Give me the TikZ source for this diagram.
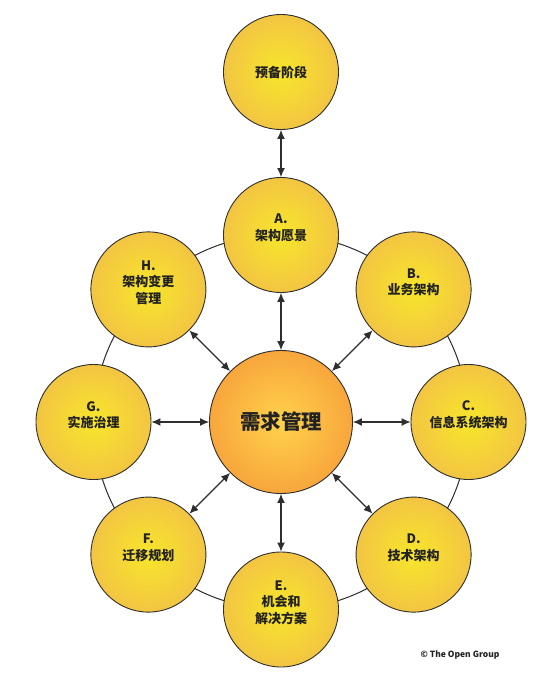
\documentclass[tikz,border=0pt]{standalone}
\usepackage{fontspec}
\setmainfont{Noto Sans CJK SC}
\usetikzlibrary{arrows.meta}
\definecolor{pin}{HTML}{F7E62A}
\definecolor{pout}{HTML}{F3C543}
\definecolor{hin}{HTML}{FFD24C}
\definecolor{hout}{HTML}{F8A63C}
\definecolor{edgec}{HTML}{2E2E2E}
\definecolor{txt}{HTML}{222222}
\begin{document}
\begin{tikzpicture}[x=1pt,y=-1pt,
  phase/.style={circle, draw=edgec, line width=0.9pt, minimum size=115pt, inner sep=0pt,
    inner color=pin, outer color=pout},
  hubnode/.style={circle, draw=edgec, line width=0.9pt, minimum size=143pt, inner sep=0pt,
    inner color=hin, outer color=hout},
  lbl/.style={align=center, text=txt, font=\bfseries\fontsize{13}{16.5}\selectfont, yshift=7pt},
  hublbl/.style={text=txt, font=\bfseries\fontsize{20.5}{24}\selectfont},
  link/.style={{Latex[length=9pt,width=8pt]}-{Latex[length=9pt,width=8pt]}, line width=1.1pt, draw=edgec},
  ring/.style={line width=1pt, draw=edgec}]
\useasboundingbox (0,0) rectangle (560,686);
\fill[white] (0,0) rectangle (560,686);
\draw[ring] (281,422) circle (187.5pt);
\node[phase] (P) at (281,72) {};
\node[phase] (A) at (281,235) {};
\node[phase] (B) at (413.6,289.4) {};
\node[phase] (C) at (468.5,422) {};
\node[phase] (D) at (413.6,554.6) {};
\node[phase] (E) at (281,609.5) {};
\node[phase] (F) at (148.4,554.6) {};
\node[phase] (G) at (93.5,422) {};
\node[phase] (H) at (148.4,289.4) {};
\node[hubnode] (R) at (281,422) {};
\node[lbl, yshift=-7pt] (Pt) at (P) {预备阶段};
\node[lbl] (At) at (A) {A.\\架构愿景};
\node[lbl] (Bt) at (B) {B.\\业务架构};
\node[lbl] (Ct) at (C) {C.\\信息系统架构};
\node[lbl] (Dt) at (D) {D.\\技术架构};
\node[lbl] (Et) at (E) {E.\\机会和\\解决方案};
\node[lbl] (Ft) at (F) {F.\\迁移规划};
\node[lbl] (Gt) at (G) {G.\\实施治理};
\node[lbl] (Ht) at (H) {H.\\架构变更\\管理};
\node[hublbl] (Rt) at (R) {需求管理};
\draw[link] (P) -- (A);
\foreach \n in {A,B,C,D,E,F,G,H} {\draw[link] (R) -- (\n);}
\node[text=txt, font=\bfseries\fontsize{8.5}{10}\selectfont, anchor=center] (copy) at (460,655) {© The Open Group};
\end{tikzpicture}
\end{document}
